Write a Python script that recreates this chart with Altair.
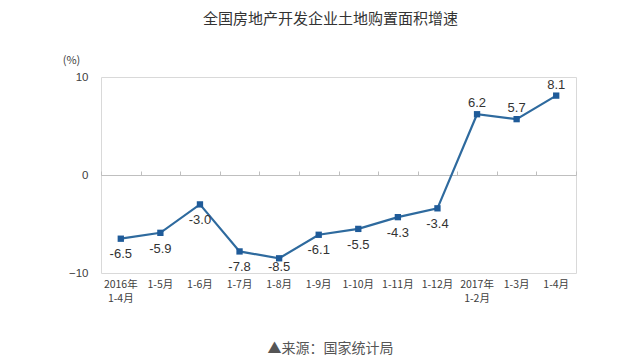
import altair as alt
import pandas as pd

categories = ["2016年\n1-4月", "1-5月", "1-6月", "1-7月", "1-8月", "1-9月",
              "1-10月", "1-11月", "1-12月", "2017年\n1-2月", "1-3月", "1-4月"]
values = [-6.5, -5.9, -3.0, -7.8, -8.5, -6.1, -5.5, -4.3, -3.4, 6.2, 5.7, 8.1]
labels = ["-6.5", "-5.9", "-3.0", "-7.8", "-8.5", "-6.1", "-5.5", "-4.3", "-3.4", "6.2", "5.7", "8.1"]

df = pd.DataFrame({"cat": categories, "val": values, "lab": labels})

CJK = "Noto Sans CJK SC"
NUM = "Liberation Sans"
LINE = "#2e6a9e"
MARK = "#1f5b99"

xscale = alt.Scale(type="band", paddingInner=0, paddingOuter=0, domain=categories)
yscale = alt.Scale(domain=[-10, 10], nice=False)

x_bottom = alt.X("cat:N", sort=categories, scale=xscale,
                 axis=alt.Axis(orient="bottom", domain=False, ticks=False, grid=False,
                               labelAngle=0, labelExpr="split(datum.label, '\\n')",
                               labelFont=CJK, labelFontSize=10.5, labelColor="#404040",
                               labelPadding=6, labelLineHeight=14,
                               title="▲来源：国家统计局", titleFont=CJK, titleFontSize=14,
                               titleFontWeight="normal", titleColor="#555555",
                               titleX=229, titleY=75, titleAlign="center",
                               titleBaseline="middle"))

x_zero = alt.X("cat:N", sort=categories, scale=xscale,
               axis=alt.Axis(orient="top", offset=-98, labels=False, title=None,
                             domain=True, domainColor="#bfbfbf", domainWidth=1,
                             ticks=True, tickBand="extent", tickSize=4,
                             tickColor="#bfbfbf", grid=False))

x_none = alt.X("cat:N", sort=categories, scale=xscale, axis=None)

y_axis = alt.Axis(values=[-10, 0, 10], domain=False, ticks=False, grid=False,
                  labelFont=NUM, labelFontSize=11.5, labelColor="#404040",
                  labelPadding=13,
                  title="(%)", titleAngle=0, titleX=-30, titleY=-17,
                  titleAlign="center", titleBaseline="middle",
                  titleFont=CJK, titleFontSize=11, titleFontWeight="normal",
                  titleColor="#404040")
y_enc = alt.Y("val:Q", scale=yscale, axis=y_axis)

line = alt.Chart(df).mark_line(color=LINE, strokeWidth=2.2).encode(x=x_bottom, y=y_enc)
pts = alt.Chart(df).mark_square(color=MARK, size=40, opacity=1).encode(x=x_none, y=y_enc)

pos_text = alt.Chart(df).transform_filter("datum.val >= 0").mark_text(
    font=NUM, fontSize=13, color="#333333", baseline="middle", dy=-11
).encode(x=x_zero, y=y_enc, text="lab:N")

neg_text = alt.Chart(df).transform_filter("datum.val < 0").transform_calculate(
    ly="max(datum.val - 1.6, -9.35)"
).mark_text(
    font=NUM, fontSize=13, color="#333333", baseline="middle"
).encode(x=x_none, y=alt.Y("ly:Q", scale=yscale, axis=y_axis), text="lab:N")

chart = alt.layer(line, pts, pos_text, neg_text).resolve_axis(x="independent").properties(
    width=475, height=196,
    autosize=alt.AutoSizeParams(type="none"),
    padding={"left": 93, "top": 69, "right": 56, "bottom": 82},
    title=alt.TitleParams("全国房地产开发企业土地购置面积增速", font=CJK, fontSize=15,
                          fontWeight="normal", color="#333333", anchor="middle",
                          frame="group", offset=27, dx=-8),
).configure_view(stroke="#d9d9d9", strokeWidth=1)

chart.save("out.html", embed_options={"renderer": "svg", "actions": False})
